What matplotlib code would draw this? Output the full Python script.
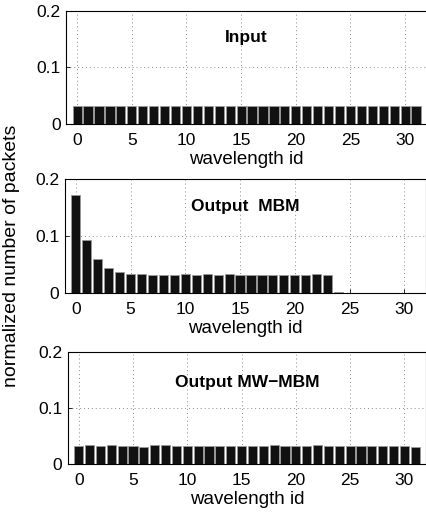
import matplotlib
matplotlib.use("Agg")
from matplotlib import pyplot as plt
import numpy as np

plt.rcParams['font.family'] = ['Liberation Sans', 'DejaVu Sans']

# wavelength ids 0..31
wavelength = np.arange(32)

# normalized packet counts per wavelength
input_vals = [0.031] * 32
mbm_vals = [0.172, 0.093, 0.059, 0.0435, 0.0365, 0.0335, 0.033, 0.0318,
            0.0318, 0.0318, 0.033, 0.0318, 0.0325, 0.0306, 0.0328, 0.0318,
            0.0318, 0.0318, 0.0318, 0.0312, 0.0318, 0.0318, 0.0328, 0.0315,
            0.002, 0, 0, 0, 0, 0, 0, 0]
mwmbm_vals = [0.0315, 0.0328, 0.0318, 0.0328, 0.0325, 0.0318, 0.0308, 0.0328,
              0.0328, 0.0318, 0.0318, 0.0318, 0.0318, 0.0318, 0.0318, 0.0318,
              0.0318, 0.0318, 0.0328, 0.0318, 0.0325, 0.0315, 0.0328, 0.0318,
              0.0318, 0.0318, 0.0318, 0.0318, 0.0318, 0.0318, 0.0318, 0.0305]

titles = ["Input", "Output  MBM", "Output MW\u2212MBM"]
series = [input_vals, mbm_vals, mwmbm_vals]
# axes rectangles in figure fractions [left, bottom, width, height]
rects = [[0.155, 0.758, 0.845, 0.221],
         [0.152, 0.428, 0.846, 0.222],
         [0.159, 0.094, 0.839, 0.219]]
label_y = [0.152, 0.152, 0.145]

fig = plt.figure(figsize=(4.27, 5.12), dpi=100)

for i in range(3):
    ax = fig.add_axes(rects[i])
    ax.bar(wavelength, series[i], width=0.84, color='#111111',
           edgecolor='#999999', linewidth=0.6, zorder=2)
    ax.set_xlim(-1, 32)
    ax.set_ylim(0, 0.2)
    ax.set_xticks([0, 5, 10, 15, 20, 25, 30])
    ax.set_yticks([0, 0.1, 0.2])
    ax.set_yticklabels(["0", "0.1", "0.2"])
    ax.tick_params(direction='in', labelsize=12.5, length=3, width=0.6)
    ax.tick_params(axis='x', pad=6.5)
    ax.tick_params(axis='y', pad=4)
    ax.grid(True, color='#888888', linestyle=(0, (1, 3)), linewidth=0.7, zorder=0)
    for sp in ax.spines.values():
        sp.set_linewidth(0.8)
    ax.set_xlabel("wavelength id", fontsize=13.5, labelpad=2)
    ax.text(15.5, label_y[i], titles[i], ha='center', va='center',
            fontsize=12.5, fontweight='bold')

fig.text(0.027, 0.5, "normalized number of packets", rotation=90,
         ha='center', va='center', fontsize=14)

plt.savefig("out.png", dpi=100)
